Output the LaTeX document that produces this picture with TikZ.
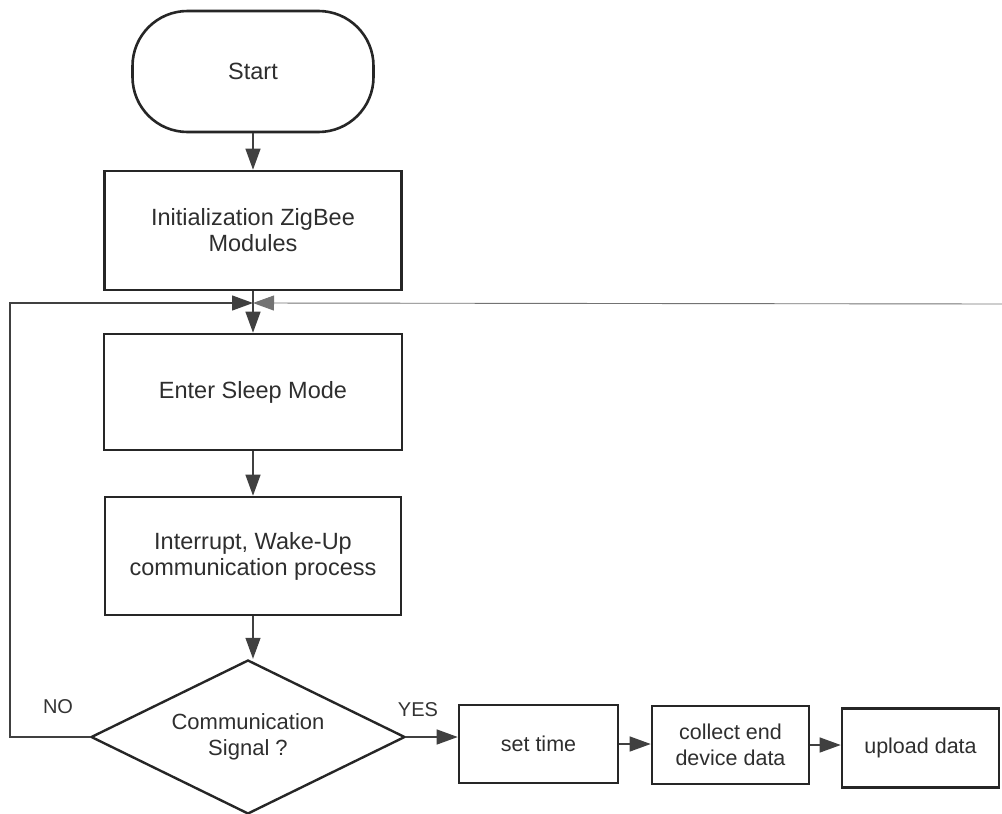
\documentclass[tikz,border=0pt]{standalone}
\usepackage{fontspec}
\setmainfont{Liberation Sans}
\usetikzlibrary{arrows.meta,shapes.geometric}

\begin{document}
\begin{tikzpicture}[x=1pt,y=-1pt,
  txt/.style={text=black!82, align=center},
  big/.style={font=\fontsize{23.5}{26}\selectfont},
  mid/.style={font=\fontsize{22}{26}\selectfont},
  small/.style={font=\fontsize{21.5}{26}\selectfont},
  procbox/.style={txt, draw=black!85, line width=2.6pt, rectangle, inner sep=0pt},
  termbox/.style={procbox, rounded corners=55pt},
  decbox/.style={txt, draw=black!85, line width=2.4pt, diamond, aspect=2, inner sep=0pt},
  flow/.style={draw=black!75, line width=1.3pt},
  arr/.style={flow, -{Triangle[length=21pt,width=15pt]}},
  lbl/.style={text=black!80, font=\fontsize{20}{22}\selectfont},
]
\useasboundingbox (0,0) rectangle (1002,814);

% main column
\node[termbox, big, minimum width=241pt, minimum height=121pt] (start) at (253,71.5) {Start};
\node[procbox, big, minimum width=297pt, minimum height=119pt] (init) at (253,230.5) {Initialization ZigBee\\Modules};
\node[procbox, big, minimum width=298pt, minimum height=116pt] (sleep) at (253,392) {Enter Sleep Mode};
\node[procbox, big, minimum width=296pt, minimum height=118pt] (intr) at (253,556) {Interrupt, Wake-Up\\communication process};
\node[decbox, mid, minimum width=314pt, minimum height=154pt] (dec) at (248,737) {Communication\\Signal ?};

% branch to the right
\node[procbox, small, minimum width=159pt, minimum height=78pt] (settime) at (538.5,744) {set time};
\node[procbox, small, minimum width=157pt, minimum height=78pt] (collect) at (730.5,745) {collect end\\device data};
\node[procbox, small, minimum width=157pt, minimum height=79pt] (upload) at (920.5,748) {upload data};

% junction above the sleep box and loop end points
\coordinate (m) at (253,303);
\coordinate (lc) at (10,737);
\coordinate (lt) at (10,303);
\coordinate (re) at (1002,304);

\draw[arr] (start) -- (init);
\draw[flow] (init) -- (m);
\draw[arr] (m) -- (sleep);
\draw[arr] (sleep) -- (intr);
\draw[arr] (intr.south) -- (intr.south |- dec.north);

\draw[arr] (dec.west) -- (lc) -- (lt) -- (m);
\draw[arr, draw=black!55, line width=0.9pt] (re) -- (m);

\draw[arr] (dec.east) -- (settime.west |- dec.east);
\draw[arr] (settime.east) -- (collect.west |- settime.east);
\draw[arr] (collect.east) -- (upload.west |- collect.east);

\node[lbl] (no) at (58,707) {NO};
\node[lbl] (yes) at (418,710) {YES};
\end{tikzpicture}
\end{document}
